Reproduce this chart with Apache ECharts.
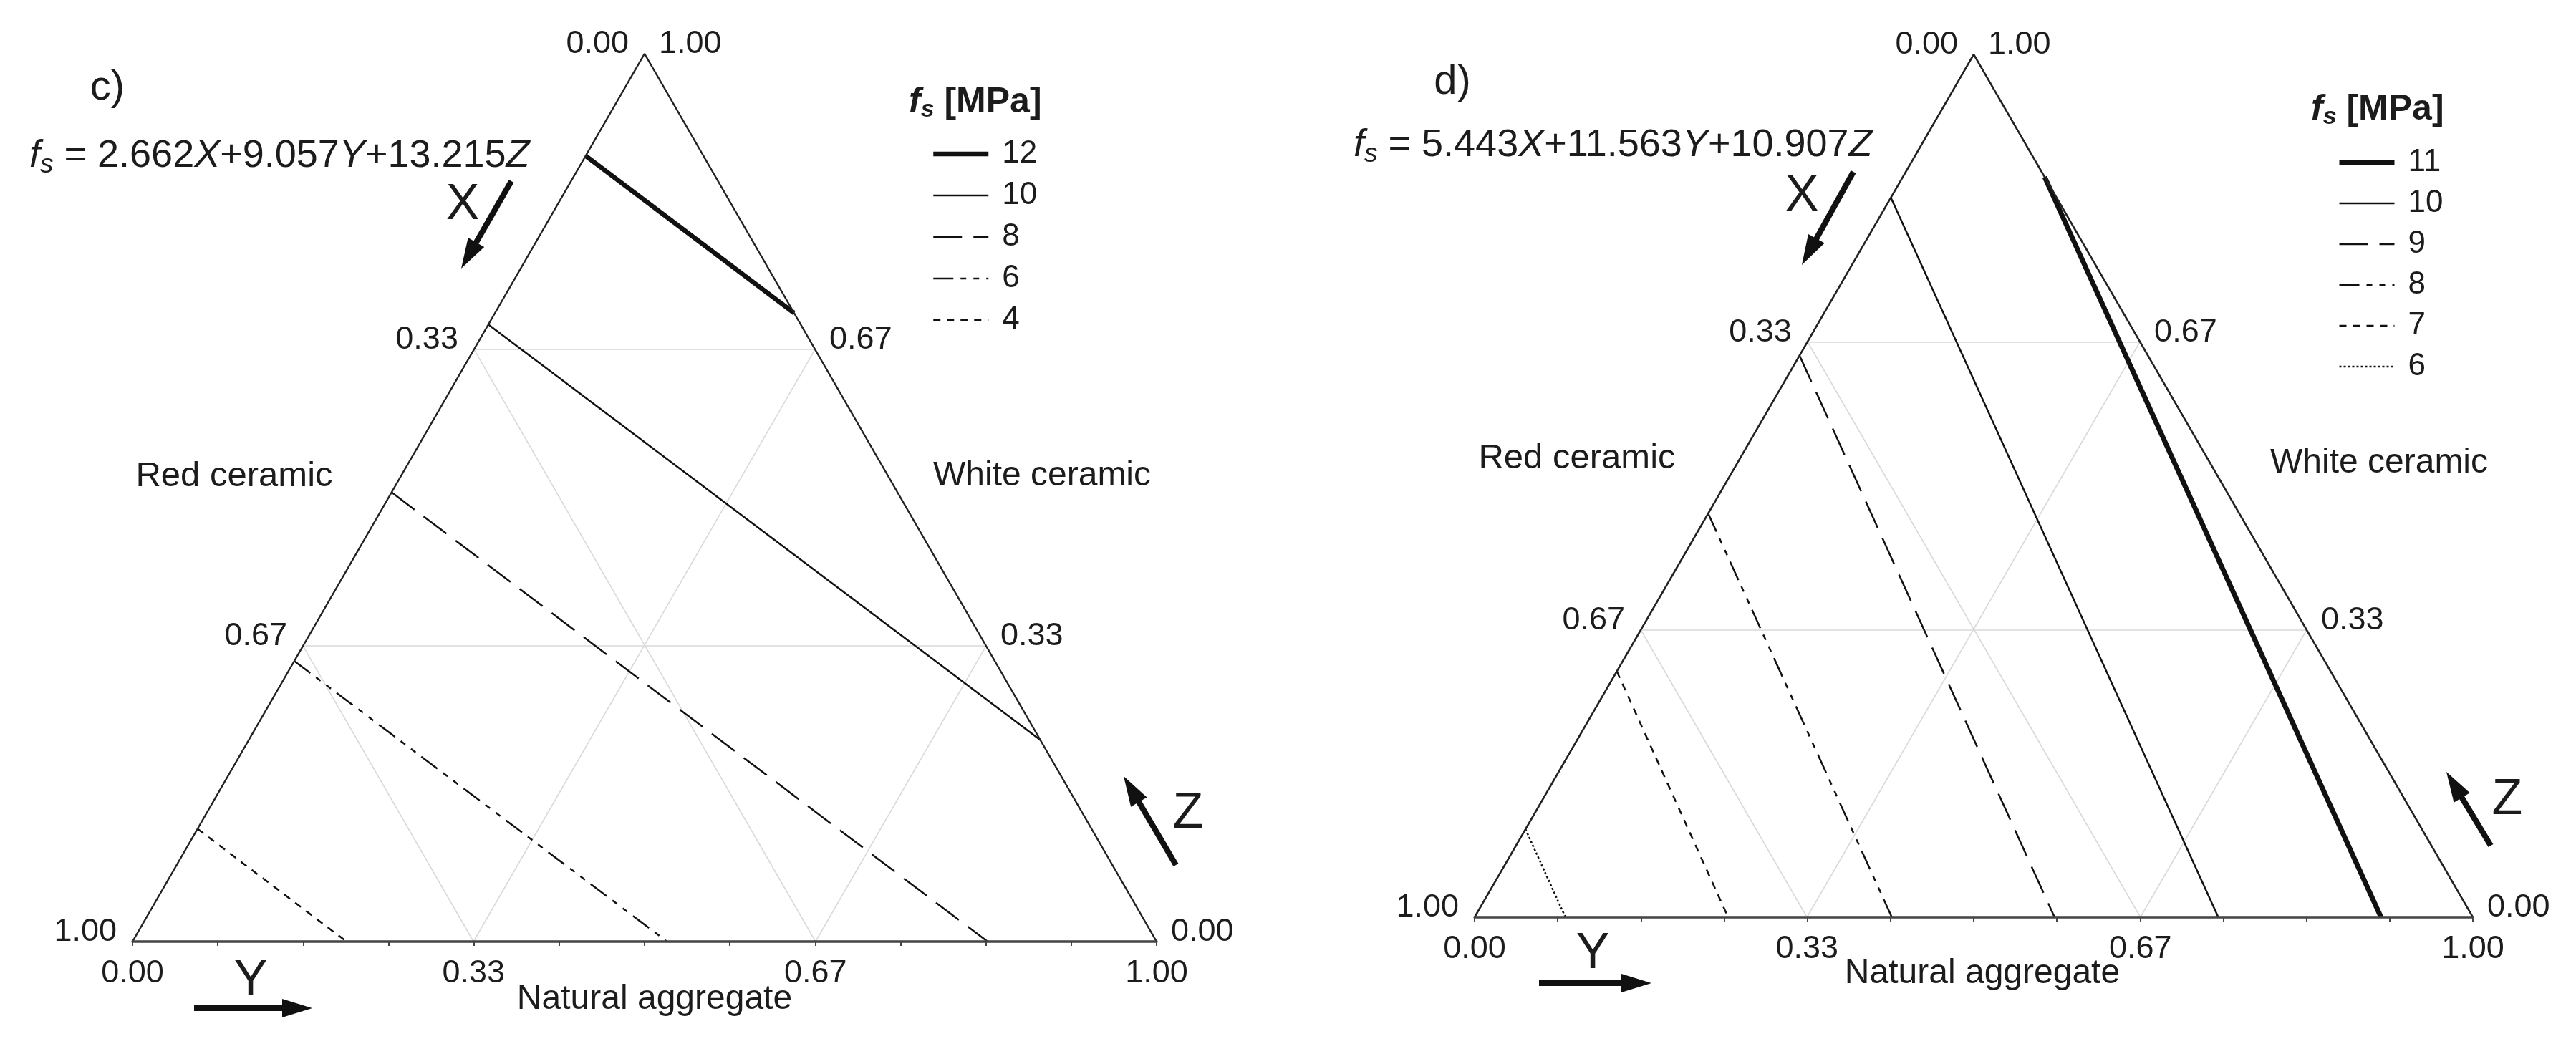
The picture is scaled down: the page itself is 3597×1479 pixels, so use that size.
<!DOCTYPE html>
<html><head><meta charset="utf-8">
<script src="https://cdn.jsdelivr.net/npm/echarts@6/dist/echarts.min.js"></script>
<style>html,body{margin:0;padding:0;background:#fff}#c{width:3597px;height:1479px}</style>
</head><body><div id="c"></div>
<script>
// ---------------- data (ternary [X, Y, Z]) ----------------
// panel c) fs = 2.662X + 9.057Y + 13.215Z
const cLevels = [12, 10, 8, 6, 4];
const cStart  = [[0.115,0,0.885],[0.305,0,0.695],[0.494,0,0.506],[0.684,0,0.316],[0.873,0,0.127]];
const cEnd    = [[0,0.292,0.708],[0,0.773,0.227],[0.165,0.835,0],[0.478,0.522,0],[0.791,0.209,0]];
// panel d) fs = 5.443X + 11.563Y + 10.907Z
const dLevels = [11, 10, 9, 8, 7, 6];
const dStart  = [[0,0.142,0.858],[0.166,0,0.834],[0.349,0,0.651],[0.532,0,0.468],[0.715,0,0.285],[0.898,0,0.102]];
const dEnd    = [[0.092,0.908,0],[0.255,0.745,0],[0.419,0.581,0],[0.582,0.418,0],[0.746,0.254,0],[0.909,0.091,0]];
const gridFractions = [0.333, 0.667];
const tickValues = [0, 0.333, 0.667, 1];
const tickLabels = ['0.00', '0.33', '0.67', '1.00'];
const minorTickStep = 1 / 12;
const cEquation = ['2.662', '9.057', '13.215'];
const dEquation = ['5.443', '11.563', '10.907'];

// ---------------- styles ----------------
const FONT = "'Liberation Sans', Arial, sans-serif";
const INK = '#1c1c1c';
const cStyles = [
  {width: 6.5, type: 'solid'},
  {width: 2.5, type: 'solid'},
  {width: 2.5, type: [40, 16]},
  {width: 2.5, type: [28, 10, 8, 10, 8, 10]},
  {width: 2.5, type: [10, 9]}
];
const dStyles = [
  {width: 7, type: 'solid'},
  {width: 2.5, type: 'solid'},
  {width: 2.5, type: [40, 16]},
  {width: 2.5, type: [28, 10, 8, 10, 8, 10]},
  {width: 2.5, type: [10, 9]},
  {width: 2.5, type: [3, 3]}
];

function toXY(t) { return [t[1] + t[2] / 2, t[2]]; }

const chart = echarts.init(document.getElementById('c'), null, {renderer: 'canvas'});

const panels = [
  {levels: cLevels, start: cStart, end: cEnd, styles: cStyles, prefix: 'c'},
  {levels: dLevels, start: dStart, end: dEnd, styles: dStyles, prefix: 'd'}
];

const grids = [
  {left: 185, top: 75, width: 1430, height: 1240},
  {left: 2059, top: 76, width: 1394, height: 1205}
];

const xAxes = [], yAxes = [], series = [];
grids.forEach((g, gi) => {
  xAxes.push({type: 'value', gridIndex: gi, min: 0, max: 1, interval: minorTickStep,
    axisLine: {show: true, lineStyle: {color: '#444', width: 3.5}},
    axisTick: {show: true, length: 6, lineStyle: {color: '#444', width: 2}},
    axisLabel: {show: false}, splitLine: {show: false}, z: 5});
  yAxes.push({type: 'value', gridIndex: gi, min: 0, max: 1, show: false});
});

panels.forEach((p, gi) => {
  const gl = [];
  gridFractions.forEach(c => {
    gl.push({coords: [toXY([1 - c, 0, c]), toXY([0, 1 - c, c])]});
    gl.push({coords: [toXY([c, 0, 1 - c]), toXY([c, 1 - c, 0])]});
    gl.push({coords: [toXY([1 - c, c, 0]), toXY([0, c, 1 - c])]});
  });
  series.push({type: 'lines', coordinateSystem: 'cartesian2d', xAxisIndex: gi, yAxisIndex: gi,
    data: gl, lineStyle: {color: '#d9d9d9', width: 1.6, opacity: 1}, silent: true, z: 1, animation: false});
  series.push({type: 'line', name: 'outline' + gi, xAxisIndex: gi, yAxisIndex: gi,
    data: [toXY([1, 0, 0]), toXY([0, 0, 1]), toXY([0, 1, 0])],
    symbol: 'none', clip: false, silent: true, z: 4, animation: false,
    lineStyle: {color: '#222', width: 2.5}});
  p.levels.forEach((lv, k) => {
    series.push({name: p.prefix + lv, type: 'line', xAxisIndex: gi, yAxisIndex: gi,
      data: [toXY(p.start[k]), toXY(p.end[k])], symbol: 'none', clip: false, silent: true,
      z: 3, animation: false,
      lineStyle: {color: '#111', width: p.styles[k].width, type: p.styles[k].type, cap: 'butt'}});
  });
});

function legendFor(p, left, top, gap) {
  return {
    data: p.levels.map(l => p.prefix + l), orient: 'vertical', left: left, top: top,
    itemWidth: 77, itemHeight: 20, itemGap: gap, selectedMode: false,
    formatter: n => n.slice(1),
    itemStyle: {opacity: 0},
    lineStyle: {width: 'inherit', type: 'inherit', color: 'inherit', opacity: 1},
    textStyle: {fontSize: 44, fontFamily: FONT, color: INK, padding: [0, 0, 0, 14], lineHeight: 44}
  };
}

chart.setOption({
  backgroundColor: '#fff',
  animation: false,
  grid: grids,
  xAxis: xAxes,
  yAxis: yAxes,
  legend: [legendFor(panels[0], 1295, 188, 14), legendFor(panels[1], 3258, 200, 13)],
  series: series
});

// ---------------- text & annotations ----------------
function txt(x, y, text, size, align, extra) {
  return Object.assign({type: 'text', x: x, y: y, silent: true, z: 10,
    style: Object.assign({text: text, fontSize: size, fontFamily: FONT, fill: INK,
      align: align, textAlign: align, verticalAlign: 'middle', textVerticalAlign: 'middle'}, extra || {})});
}
function arrow(x1, y1, x2, y2) {
  const dx = x2 - x1, dy = y2 - y1, L = Math.hypot(dx, dy), ux = dx / L, uy = dy / L, nx = -uy, ny = ux;
  const hl = 42, hw = 13;
  const bx = x2 - ux * hl, by = y2 - uy * hl;
  return [
    {type: 'line', silent: true, z: 10, shape: {x1: x1, y1: y1, x2: bx + ux * 6, y2: by + uy * 6},
      style: {stroke: '#111', lineWidth: 8}},
    {type: 'polygon', silent: true, z: 10,
      shape: {points: [[x2, y2], [bx + nx * hw, by + ny * hw], [bx - nx * hw, by - ny * hw]]},
      style: {fill: '#111'}}
  ];
}
function equation(x, y, coef) {
  return {type: 'text', x: x, y: y, silent: true, z: 10,
    style: {text: '{i|f}{s|s}{n| = ' + coef[0] + '}{i|X}{n|+' + coef[1] + '}{i|Y}{n|+' + coef[2] + '}{i|Z}',
      fontFamily: FONT, fill: INK, align: 'left', textAlign: 'left', verticalAlign: 'middle', textVerticalAlign: 'middle',
      rich: {
        n: {fontSize: 54, fontFamily: FONT, fill: INK, lineHeight: 66},
        i: {fontSize: 54, fontFamily: FONT, fill: INK, fontStyle: 'italic', lineHeight: 66},
        s: {fontSize: 37, fontFamily: FONT, fill: INK, fontStyle: 'italic', padding: [25, 0, 0, 0]}
      }}};
}
function legendTitle(x, y) {
  return {type: 'text', x: x, y: y, silent: true, z: 10,
    style: {text: '{b|f}{s|s}{t| [MPa]}', fontFamily: FONT, fill: INK,
      align: 'left', textAlign: 'left', verticalAlign: 'middle', textVerticalAlign: 'middle',
      rich: {
        b: {fontSize: 50, fontFamily: FONT, fill: INK, fontStyle: 'italic', fontWeight: 'bold', lineHeight: 60},
        s: {fontSize: 34, fontFamily: FONT, fill: INK, fontStyle: 'italic', fontWeight: 'bold', padding: [22, 0, 0, 0]},
        t: {fontSize: 50, fontFamily: FONT, fill: INK, fontWeight: 'bold', lineHeight: 60}
      }}};
}

const g = [];
[0, 1].forEach(gi => {
  const P = t => chart.convertToPixel({gridIndex: gi}, toXY(t));
  tickValues.forEach((v, k) => {
    const a = P([v, 0, 1 - v]);       // left edge: X
    g.push(txt(a[0] - 22, a[1] - 13, tickLabels[k], 45, 'right'));
    const b = P([0, 1 - v, v]);       // right edge: Z
    g.push(txt(b[0] + 20, b[1] - 13, tickLabels[k], 45, 'left'));
    const c = P([1 - v, v, 0]);       // bottom edge: Y
    g.push(txt(c[0], c[1] + 45, tickLabels[k], 45, 'center'));
  });
});

// panel c)
g.push(txt(150, 123, 'c)', 58, 'center'));
g.push(equation(41, 218, cEquation));
g.push(legendTitle(1269, 143));
g.push(txt(327, 665, 'Red ceramic', 49, 'center'));
g.push(txt(1455, 665, 'White ceramic', 48, 'center'));
g.push(txt(914, 1396, 'Natural aggregate', 48, 'center'));
g.push(txt(646, 287, 'X', 70, 'center'));
g.push(txt(350, 1371, 'Y', 70, 'center'));
g.push(txt(1659, 1137, 'Z', 70, 'center'));
g.push(...arrow(714, 253, 644, 375));
g.push(...arrow(271, 1408, 436, 1408));
g.push(...arrow(1642, 1208, 1569, 1084));

// panel d)
g.push(txt(2028, 115, 'd)', 58, 'center'));
g.push(equation(1890, 203, dEquation));
g.push(legendTitle(3227, 153));
g.push(txt(2202, 640, 'Red ceramic', 49, 'center'));
g.push(txt(3322, 647, 'White ceramic', 48, 'center'));
g.push(txt(2768, 1360, 'Natural aggregate', 48, 'center'));
g.push(txt(2516, 275, 'X', 70, 'center'));
g.push(txt(2224, 1333, 'Y', 70, 'center'));
g.push(txt(3501, 1118, 'Z', 70, 'center'));
g.push(...arrow(2588, 240, 2516, 370));
g.push(...arrow(2149, 1373, 2306, 1373));
g.push(...arrow(3478, 1181, 3416, 1078));

chart.setOption({graphic: {elements: g}});
</script>
</body></html>
